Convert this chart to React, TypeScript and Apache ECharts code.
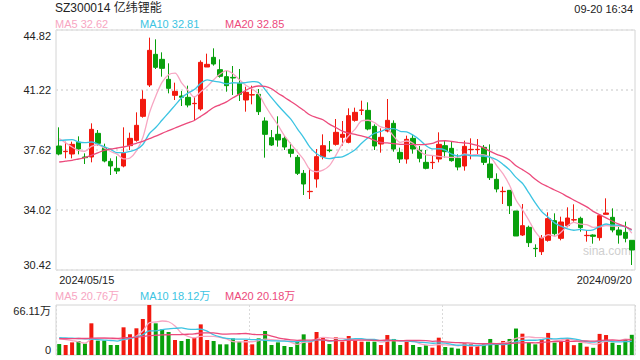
import React, { useEffect, useRef } from 'react';
import * as echarts from 'echarts';

const dates = [
  '2024/05/15', '2024/05/16', '2024/05/17', '2024/05/20', '2024/05/21', '2024/05/22', '2024/05/23', '2024/05/24', '2024/05/27', '2024/05/28',
  '2024/05/29', '2024/05/30', '2024/05/31', '2024/06/03', '2024/06/04', '2024/06/05', '2024/06/06', '2024/06/07', '2024/06/11', '2024/06/12',
  '2024/06/13', '2024/06/14', '2024/06/17', '2024/06/18', '2024/06/19', '2024/06/20', '2024/06/21', '2024/06/24', '2024/06/25', '2024/06/26',
  '2024/06/27', '2024/06/28', '2024/07/01', '2024/07/02', '2024/07/03', '2024/07/04', '2024/07/05', '2024/07/08', '2024/07/09', '2024/07/10',
  '2024/07/11', '2024/07/12', '2024/07/15', '2024/07/16', '2024/07/17', '2024/07/18', '2024/07/19', '2024/07/22', '2024/07/23', '2024/07/24',
  '2024/07/25', '2024/07/26', '2024/07/29', '2024/07/30', '2024/07/31', '2024/08/01', '2024/08/02', '2024/08/05', '2024/08/06', '2024/08/07',
  '2024/08/08', '2024/08/09', '2024/08/12', '2024/08/13', '2024/08/14', '2024/08/15', '2024/08/16', '2024/08/19', '2024/08/20', '2024/08/21',
  '2024/08/22', '2024/08/23', '2024/08/26', '2024/08/27', '2024/08/28', '2024/08/29', '2024/08/30', '2024/09/02', '2024/09/03', '2024/09/04',
  '2024/09/05', '2024/09/06', '2024/09/09', '2024/09/10', '2024/09/11', '2024/09/12', '2024/09/13', '2024/09/18', '2024/09/19', '2024/09/20',
];

const opens = [
  37.86, 37.52, 37.38, 38.08, 37.20, 37.20, 38.62, 37.76, 36.94, 36.52,
  36.66, 37.88, 38.20, 39.64, 41.52, 43.36, 43.06, 41.86, 40.90, 40.86,
  40.78, 40.40, 40.08, 42.60, 43.18, 42.44, 42.02, 41.98, 41.62, 40.62,
  40.92, 40.96, 39.36, 38.36, 38.56, 38.32, 37.66, 37.18, 36.22, 35.12,
  35.88, 37.22, 37.62, 37.96, 38.38, 38.08, 39.40, 40.00, 40.00, 39.04,
  37.98, 38.76, 39.22, 37.48, 37.08, 38.32, 37.60, 36.88, 36.86, 37.08,
  37.88, 37.72, 37.12, 36.66, 37.64, 37.64, 37.78, 36.78, 35.86, 35.12,
  35.20, 33.96, 32.52, 32.98, 31.72, 31.52, 32.20, 33.38, 32.32, 33.08,
  33.42, 33.52, 32.48, 32.52, 32.36, 33.76, 33.58, 32.82, 32.68, 32.20,
];

const closes = [
  37.38, 37.54, 37.96, 37.68, 37.16, 38.86, 38.02, 36.96, 36.66, 36.36,
  37.42, 38.32, 39.10, 40.66, 43.60, 42.58, 42.52, 41.32, 41.14, 40.78,
  40.32, 40.42, 42.88, 42.76, 42.78, 42.04, 41.48, 41.94, 40.96, 41.08,
  40.94, 39.92, 38.56, 37.92, 38.22, 37.80, 37.42, 36.22, 35.58, 35.14,
  37.22, 37.88, 37.58, 38.68, 38.56, 39.68, 39.88, 40.02, 38.88, 37.86,
  38.38, 39.40, 37.68, 37.08, 38.26, 37.68, 37.12, 36.52, 36.88, 37.96,
  37.52, 36.98, 36.60, 37.84, 37.66, 37.66, 36.88, 35.96, 35.28, 35.14,
  34.28, 32.46, 33.08, 32.06, 31.70, 32.36, 33.50, 32.60, 33.30, 33.54,
  33.44, 32.96, 32.50, 32.44, 33.68, 33.84, 32.82, 32.52, 32.32, 31.62,
];

const lows = [
  37.30, 37.12, 37.12, 37.36, 36.78, 36.88, 37.88, 36.88, 36.12, 36.18,
  36.58, 37.62, 38.12, 39.56, 41.40, 42.48, 42.02, 41.02, 40.62, 40.26,
  40.18, 39.42, 39.98, 42.60, 42.68, 41.96, 41.12, 40.92, 40.56, 39.92,
  40.36, 39.72, 37.16, 37.86, 37.82, 37.62, 37.18, 36.12, 34.92, 34.68,
  35.36, 37.06, 37.48, 37.88, 37.88, 38.02, 39.32, 39.72, 38.80, 37.62,
  37.46, 38.68, 37.52, 36.84, 36.80, 37.40, 36.88, 36.46, 36.48, 36.88,
  37.16, 36.92, 36.40, 36.38, 37.06, 37.38, 36.72, 35.82, 35.08, 34.38,
  33.78, 32.46, 32.46, 31.80, 31.20, 31.32, 32.12, 32.48, 32.20, 32.98,
  33.32, 32.72, 32.12, 32.00, 32.18, 33.76, 32.68, 32.00, 32.08, 30.72,
];

const highs = [
  38.98, 38.12, 38.12, 38.44, 37.42, 39.22, 38.82, 38.00, 37.12, 37.24,
  38.98, 38.66, 39.88, 41.20, 44.36, 44.26, 43.48, 42.82, 41.66, 41.16,
  41.48, 40.82, 43.00, 43.40, 43.72, 43.06, 42.36, 42.66, 42.48, 41.42,
  41.48, 41.28, 39.58, 38.82, 39.64, 38.46, 38.06, 37.32, 36.42, 36.52,
  37.68, 38.56, 38.16, 39.48, 39.36, 40.12, 40.16, 40.58, 40.48, 39.16,
  38.92, 40.68, 39.40, 37.76, 38.48, 38.56, 37.86, 37.62, 37.32, 38.68,
  38.22, 38.12, 37.36, 38.18, 38.32, 38.28, 37.92, 37.96, 36.22, 35.42,
  35.20, 33.96, 34.38, 33.08, 31.96, 32.52, 33.88, 33.82, 33.62, 34.18,
  34.36, 33.62, 32.82, 32.56, 33.72, 34.72, 34.12, 33.00, 33.32, 32.20,
];

// volume in 万
const volumes = [
  14.5, 13.2, 16.7, 18.5, 15.0, 41.9, 19.0, 19.0, 13.2, 13.2,
  36.6, 27.3, 35.3, 47.6, 66.11, 41.9, 33.9, 30.4, 19.8, 18.5,
  21.2, 22.9, 40.5, 19.8, 18.5, 14.1, 14.1, 22.0, 17.6, 19.8,
  14.1, 22.0, 31.7, 13.2, 16.7, 11.9, 10.6, 17.6, 27.3, 17.6,
  30.4, 23.4, 14.5, 23.4, 17.6, 25.1, 19.0, 17.6, 17.6, 17.6,
  13.2, 26.4, 21.2, 13.2, 17.6, 13.2, 10.6, 12.8, 9.7, 22.9,
  10.6, 9.7, 8.4, 15.4, 14.1, 11.9, 14.1, 21.2, 14.1, 18.5,
  21.2, 35.0, 28.2, 16.7, 14.1, 21.2, 29.2, 16.3, 18.5, 22.0,
  13.0, 16.0, 11.0, 9.5, 27.9, 26.4, 16.3, 13.2, 21.2, 26.7,
];

const ma5Lead = [38.30, 38.05, 37.80, 37.60];
const ma10Lead = [38.18, 38.22, 38.24, 38.10, 38.06, 38.10, 37.98, 37.82, 37.66];
const ma20Lead = [36.90, 36.95, 37.00, 37.08, 37.16, 37.30, 37.45, 37.60, 37.68, 37.74,
  37.80, 37.90, 38.02, 38.14, 38.30, 38.45, 38.62, 38.78, 38.94];
const vma5Lead = [22.0, 20.5, 19.0, 17.5];
const vma10Lead = [23.0, 22.6, 22.2, 21.8, 21.4, 21.0, 20.4, 19.8, 19.2];
const vma20Lead = [21.5, 21.5, 21.6, 21.8, 21.8, 22.3, 22.4, 22.4, 22.2, 22.0,
  22.6, 23.0, 23.6, 24.4, 25.6, 26.1, 26.5, 26.8, 26.9];

const priceTicks = [30.42, 34.02, 37.62, 41.22, 44.82];
const volTicks = [0, 66.11];

const title = 'SZ300014 亿纬锂能';
const timeText = '09-20 16:34';

const RED = '#f2190f';
const GREEN = '#08a00c';
const C5 = '#f7a6c2';
const C10 = '#3cc4e2';
const C20 = '#ec4a7c';
const FONT = "'Liberation Sans', 'Noto Sans CJK SC', sans-serif";

function movingAverage(values: number[], n: number, lead: number[]): number[] {
  return values.map((_, i) => {
    if (i < n - 1) return lead[i];
    let s = 0;
    for (let k = i - n + 1; k <= i; k++) s += values[k];
    return s / n;
  });
}

export default function App() {
  const ref = useRef<HTMLDivElement>(null);

  useEffect(() => {
    if (!ref.current) return;
    const chart = echarts.init(ref.current, undefined, { renderer: 'svg' });

    const ma5 = movingAverage(closes, 5, ma5Lead);
    const ma10 = movingAverage(closes, 10, ma10Lead);
    const ma20 = movingAverage(closes, 20, ma20Lead);
    const vma5 = movingAverage(volumes, 5, vma5Lead);
    const vma10 = movingAverage(volumes, 10, vma10Lead);
    const vma20 = movingAverage(volumes, 20, vma20Lead);
    const last = (a: number[]) => a[a.length - 1];

    const candleData = dates.map((_, i) => [opens[i], closes[i], lows[i], highs[i]]);
    const volData = volumes.map((v, i) => ({
      value: v,
      itemStyle: { color: closes[i] >= opens[i] ? RED : GREEN },
    }));

    const legendText = (x: number, y: number, text: string, color: string) => ({
      type: 'text',
      left: x,
      top: y,
      style: { text, fill: color, font: `11px ${FONT}` },
    });

    const lineSeries = (name: string, data: number[], color: string, axis: number) => ({
      name,
      type: 'line',
      data,
      xAxisIndex: axis,
      yAxisIndex: axis,
      showSymbol: false,
      smooth: 0.3,
      lineStyle: { color, width: 1.3 },
      itemStyle: { color },
      silent: true,
      z: 3,
    });

    const gridLeft = 56;
    const gridWidth = 579;

    chart.setOption({
      animation: false,
      backgroundColor: '#ffffff',
      textStyle: { fontFamily: FONT },
      grid: [
        { left: gridLeft, top: 30, width: gridWidth, height: 240, show: true, borderColor: '#d4d4d4', borderWidth: 1 },
        { left: gridLeft, top: 305, width: gridWidth, height: 50, show: true, borderColor: '#d4d4d4', borderWidth: 1 },
      ],
      xAxis: [
        {
          type: 'category',
          gridIndex: 0,
          data: dates,
          boundaryGap: true,
          axisLine: { show: false },
          axisTick: { show: false },
          splitLine: { show: false },
          axisLabel: {
            interval: (index: number) => index === 0 || index === dates.length - 1,
            alignMinLabel: 'left',
            alignMaxLabel: 'right',
            margin: 4,
            fontSize: 11,
            color: '#222',
            fontFamily: FONT,
          },
        },
        {
          type: 'category',
          gridIndex: 1,
          data: dates,
          boundaryGap: true,
          axisLine: { show: false },
          axisTick: { show: false },
          axisLabel: { show: false },
          splitLine: {
            show: true,
            interval: 29,
            lineStyle: { color: '#dadada', width: 1, type: [2, 2] },
          },
        },
      ],
      yAxis: [
        {
          type: 'value',
          gridIndex: 0,
          min: priceTicks[0],
          max: priceTicks[priceTicks.length - 1],
          axisLine: { show: false },
          axisTick: { show: false, customValues: priceTicks },
          axisLabel: {
            customValues: priceTicks,
            formatter: (v: number) => v.toFixed(2),
            verticalAlignMinLabel: 'bottom',
            verticalAlignMaxLabel: 'top',
            margin: 5,
            fontSize: 11,
            color: '#222',
            fontFamily: FONT,
          },
          splitLine: { show: true, lineStyle: { color: '#e2e2e2', width: 2, type: [2, 3] } },
        },
        {
          type: 'value',
          gridIndex: 1,
          min: volTicks[0],
          max: volTicks[volTicks.length - 1],
          axisLine: { show: false },
          axisTick: { show: false, customValues: volTicks },
          axisLabel: {
            customValues: volTicks,
            formatter: (v: number) => (v === 0 ? '0' : v.toFixed(2) + '万'),
            verticalAlignMinLabel: 'bottom',
            verticalAlignMaxLabel: 'top',
            margin: 5,
            fontSize: 11,
            color: '#222',
            fontFamily: FONT,
          },
          splitLine: { show: false },
        },
      ],
      series: [
        {
          name: 'K',
          type: 'candlestick',
          xAxisIndex: 0,
          yAxisIndex: 0,
          data: candleData,
          barWidth: 5,
          itemStyle: {
            color: RED,
            color0: GREEN,
            borderColor: RED,
            borderColor0: GREEN,
            borderWidth: 1,
          },
          z: 2,
        },
        lineSeries('MA5', ma5, C5, 0),
        lineSeries('MA10', ma10, C10, 0),
        lineSeries('MA20', ma20, C20, 0),
        {
          name: 'VOL',
          type: 'bar',
          xAxisIndex: 1,
          yAxisIndex: 1,
          data: volData,
          barWidth: 4,
          z: 2,
        },
        lineSeries('VMA5', vma5, C5, 1),
        lineSeries('VMA10', vma10, C10, 1),
        lineSeries('VMA20', vma20, C20, 1),
      ],
      graphic: [
        { type: 'text', left: 55, top: 2, style: { text: title, fill: '#222', font: `12px ${FONT}` } },
        { type: 'text', right: 7, top: 3, style: { text: timeText, fill: '#222', font: `11px ${FONT}` } },
        legendText(55, 18, `MA5 ${last(ma5).toFixed(2)}`, C5),
        legendText(140, 18, `MA10 ${last(ma10).toFixed(2)}`, C10),
        legendText(225, 18, `MA20 ${last(ma20).toFixed(2)}`, C20),
        legendText(55, 290, `MA5 ${last(vma5).toFixed(2)}万`, C5),
        legendText(140, 290, `MA10 ${last(vma10).toFixed(2)}万`, C10),
        legendText(225, 290, `MA20 ${last(vma20).toFixed(2)}万`, C20),
        { type: 'text', left: 583, top: 245, z: 0, style: { text: 'sina.com', fill: '#cfcfcf', font: `12px ${FONT}` } },
      ],
    });

    return () => chart.dispose();
  }, []);

  return <div ref={ref} style={{ position: 'fixed', left: 0, top: 0, width: 640, height: 360 }} />;
}
